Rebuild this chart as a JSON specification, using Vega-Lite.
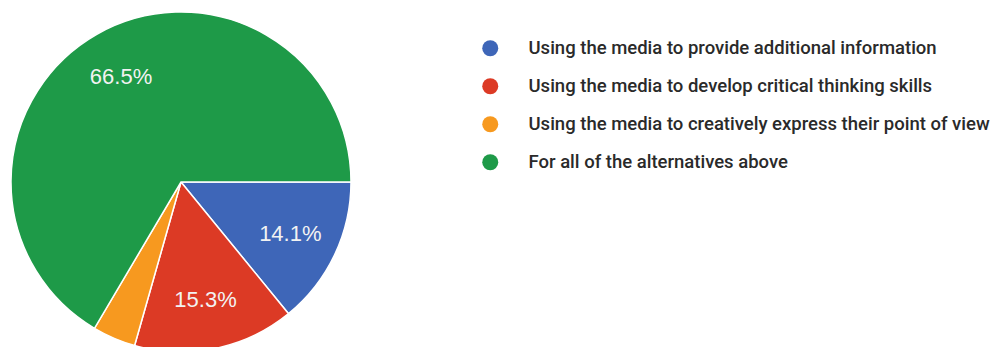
{
  "$schema": "https://vega.github.io/schema/vega-lite/v6.json",
  "width": 362,
  "height": 330,
  "autosize": {"type": "none"},
  "padding": {"left": 0, "top": 17, "right": 640, "bottom": 0},
  "background": "white",
  "view": {"stroke": null},
  "data": {
    "values": [
      {"category": "Using the media to provide additional information", "pct": 14.1, "label": "14.1%", "order": 1},
      {"category": "Using the media to develop critical thinking skills", "pct": 15.3, "label": "15.3%", "order": 2},
      {"category": "Using the media to creatively express their point of view", "pct": 4.1, "label": "", "order": 3},
      {"category": "For all of the alternatives above", "pct": 66.5, "label": "66.5%", "order": 4}
    ]
  },
  "encoding": {
    "theta": {"field": "pct", "type": "quantitative", "stack": true, "scale": {"range": [1.5707963, 7.8539816]}},
    "order": {"field": "order", "type": "quantitative"},
    "color": {
      "field": "category",
      "type": "nominal",
      "sort": ["Using the media to provide additional information", "Using the media to develop critical thinking skills", "Using the media to creatively express their point of view", "For all of the alternatives above"],
      "scale": {
        "domain": ["Using the media to provide additional information", "Using the media to develop critical thinking skills", "Using the media to creatively express their point of view", "For all of the alternatives above"],
        "range": ["#3e66b8", "#dc3a25", "#f7991f", "#1e9a48"]
      },
      "legend": {
        "title": null,
        "orient": "none",
        "legendX": 481,
        "legendY": 22,
        "symbolType": "circle",
        "symbolSize": 256,
        "symbolStrokeWidth": 0,
        "symbolOpacity": 1,
        "labelFont": "Roboto",
        "labelFontSize": 18.5,
        "labelFontWeight": 500,
        "labelColor": "#2a2a2a",
        "labelOffset": 29,
        "labelLimit": 600,
        "rowPadding": 19,
        "padding": 0
      }
    }
  },
  "layer": [
    {
      "mark": {"type": "arc", "outerRadius": 170, "stroke": "white", "strokeWidth": 1.5}
    },
    {
      "mark": {"type": "text", "radius": 121, "font": "Liberation Sans", "fontSize": 22, "fill": "#f2f2f2", "align": "center", "baseline": "middle"},
      "encoding": {
        "text": {"field": "label", "type": "nominal"},
        "color": {"value": "#f2f2f2"}
      }
    }
  ]
}
